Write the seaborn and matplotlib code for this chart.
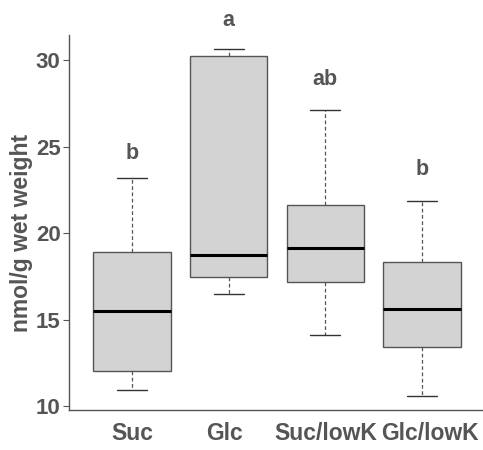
import numpy as np
import pandas as pd
import matplotlib
matplotlib.use("Agg")
import matplotlib.pyplot as plt
from matplotlib.transforms import ScaledTranslation
import seaborn as sns

categories = ["Suc", "Glc", "Suc/lowK", "Glc/lowK"]
# five-number summaries: min, Q1, median, Q3, max
suc = [10.93, 12.02, 15.50, 18.90, 23.18]
glc = [16.46, 17.44, 18.71, 30.25, 30.62]
suc_lowk = [14.12, 17.19, 19.15, 21.60, 27.13]
glc_lowk = [10.60, 13.39, 15.60, 18.34, 21.85]
letters = ["b", "a", "ab", "b"]
letter_y = [24.6, 32.3, 28.85, 23.7]
yticks = [10, 15, 20, 25, 30]

series = [suc, glc, suc_lowk, glc_lowk]
df = pd.DataFrame({
    "group": np.repeat(categories, [len(s) for s in series]),
    "value": np.concatenate(series),
})

sns.set_style("white")
plt.rcParams["font.family"] = ["Liberation Sans", "DejaVu Sans"]

fig = plt.figure(figsize=(4.83, 4.5), dpi=100)
ax = fig.add_axes([69/483, 1 - 410/450, 1 - 69/483, (410 - 35)/450])

txt = "#555555"
edge = "#555555"
sns.boxplot(
    data=df, x="group", y="value", order=categories, ax=ax,
    color="#d3d3d3", width=0.8, whis=(0, 100), fliersize=0,
    linecolor=edge, linewidth=1.0,
    boxprops=dict(facecolor="#d3d3d3", edgecolor=edge, linewidth=1.0),
    medianprops=dict(color="black", linewidth=2.2),
    whiskerprops=dict(color=edge, linestyle=(0, (3, 2)), linewidth=0.9),
    capprops=dict(color="#333333", linewidth=1.0),
    capwidths=0.31,
)

ax.set_xlim(-0.65, 3.63)
ax.set_ylim(9.77, 31.45)
ax.set_yticks(yticks)
ax.set_yticklabels([str(t) for t in yticks], fontsize=16, fontweight="bold", color=txt)
ax.set_xticks(range(len(categories)))
ax.set_xticklabels(categories, fontsize=16.5, fontweight="bold", color=txt)
ax.tick_params(axis="x", length=0, pad=9)
ax.tick_params(axis="y", length=4, width=0.8, color=edge, pad=2, left=True)
offsets = [0, -4, 0, 8]
for lab, dx in zip(ax.get_xticklabels(), offsets):
    lab.set_transform(lab.get_transform() + ScaledTranslation(dx / 100, 0, fig.dpi_scale_trans))
ax.set_xlabel("")
ax.set_ylabel("nmol/g wet weight", fontsize=16.5, fontweight="bold", color=txt)
ax.yaxis.set_label_coords(-0.087, 0.472)

for s in ["top", "right"]:
    ax.spines[s].set_visible(False)
for s in ["left", "bottom"]:
    ax.spines[s].set_color(edge)
    ax.spines[s].set_linewidth(1.0)

for i, (lab, yv) in enumerate(zip(letters, letter_y)):
    ax.text(i, yv, lab, ha="center", va="center", fontsize=15.5, fontweight="bold",
            color=txt, clip_on=False)

fig.savefig("out.png", dpi=100)
